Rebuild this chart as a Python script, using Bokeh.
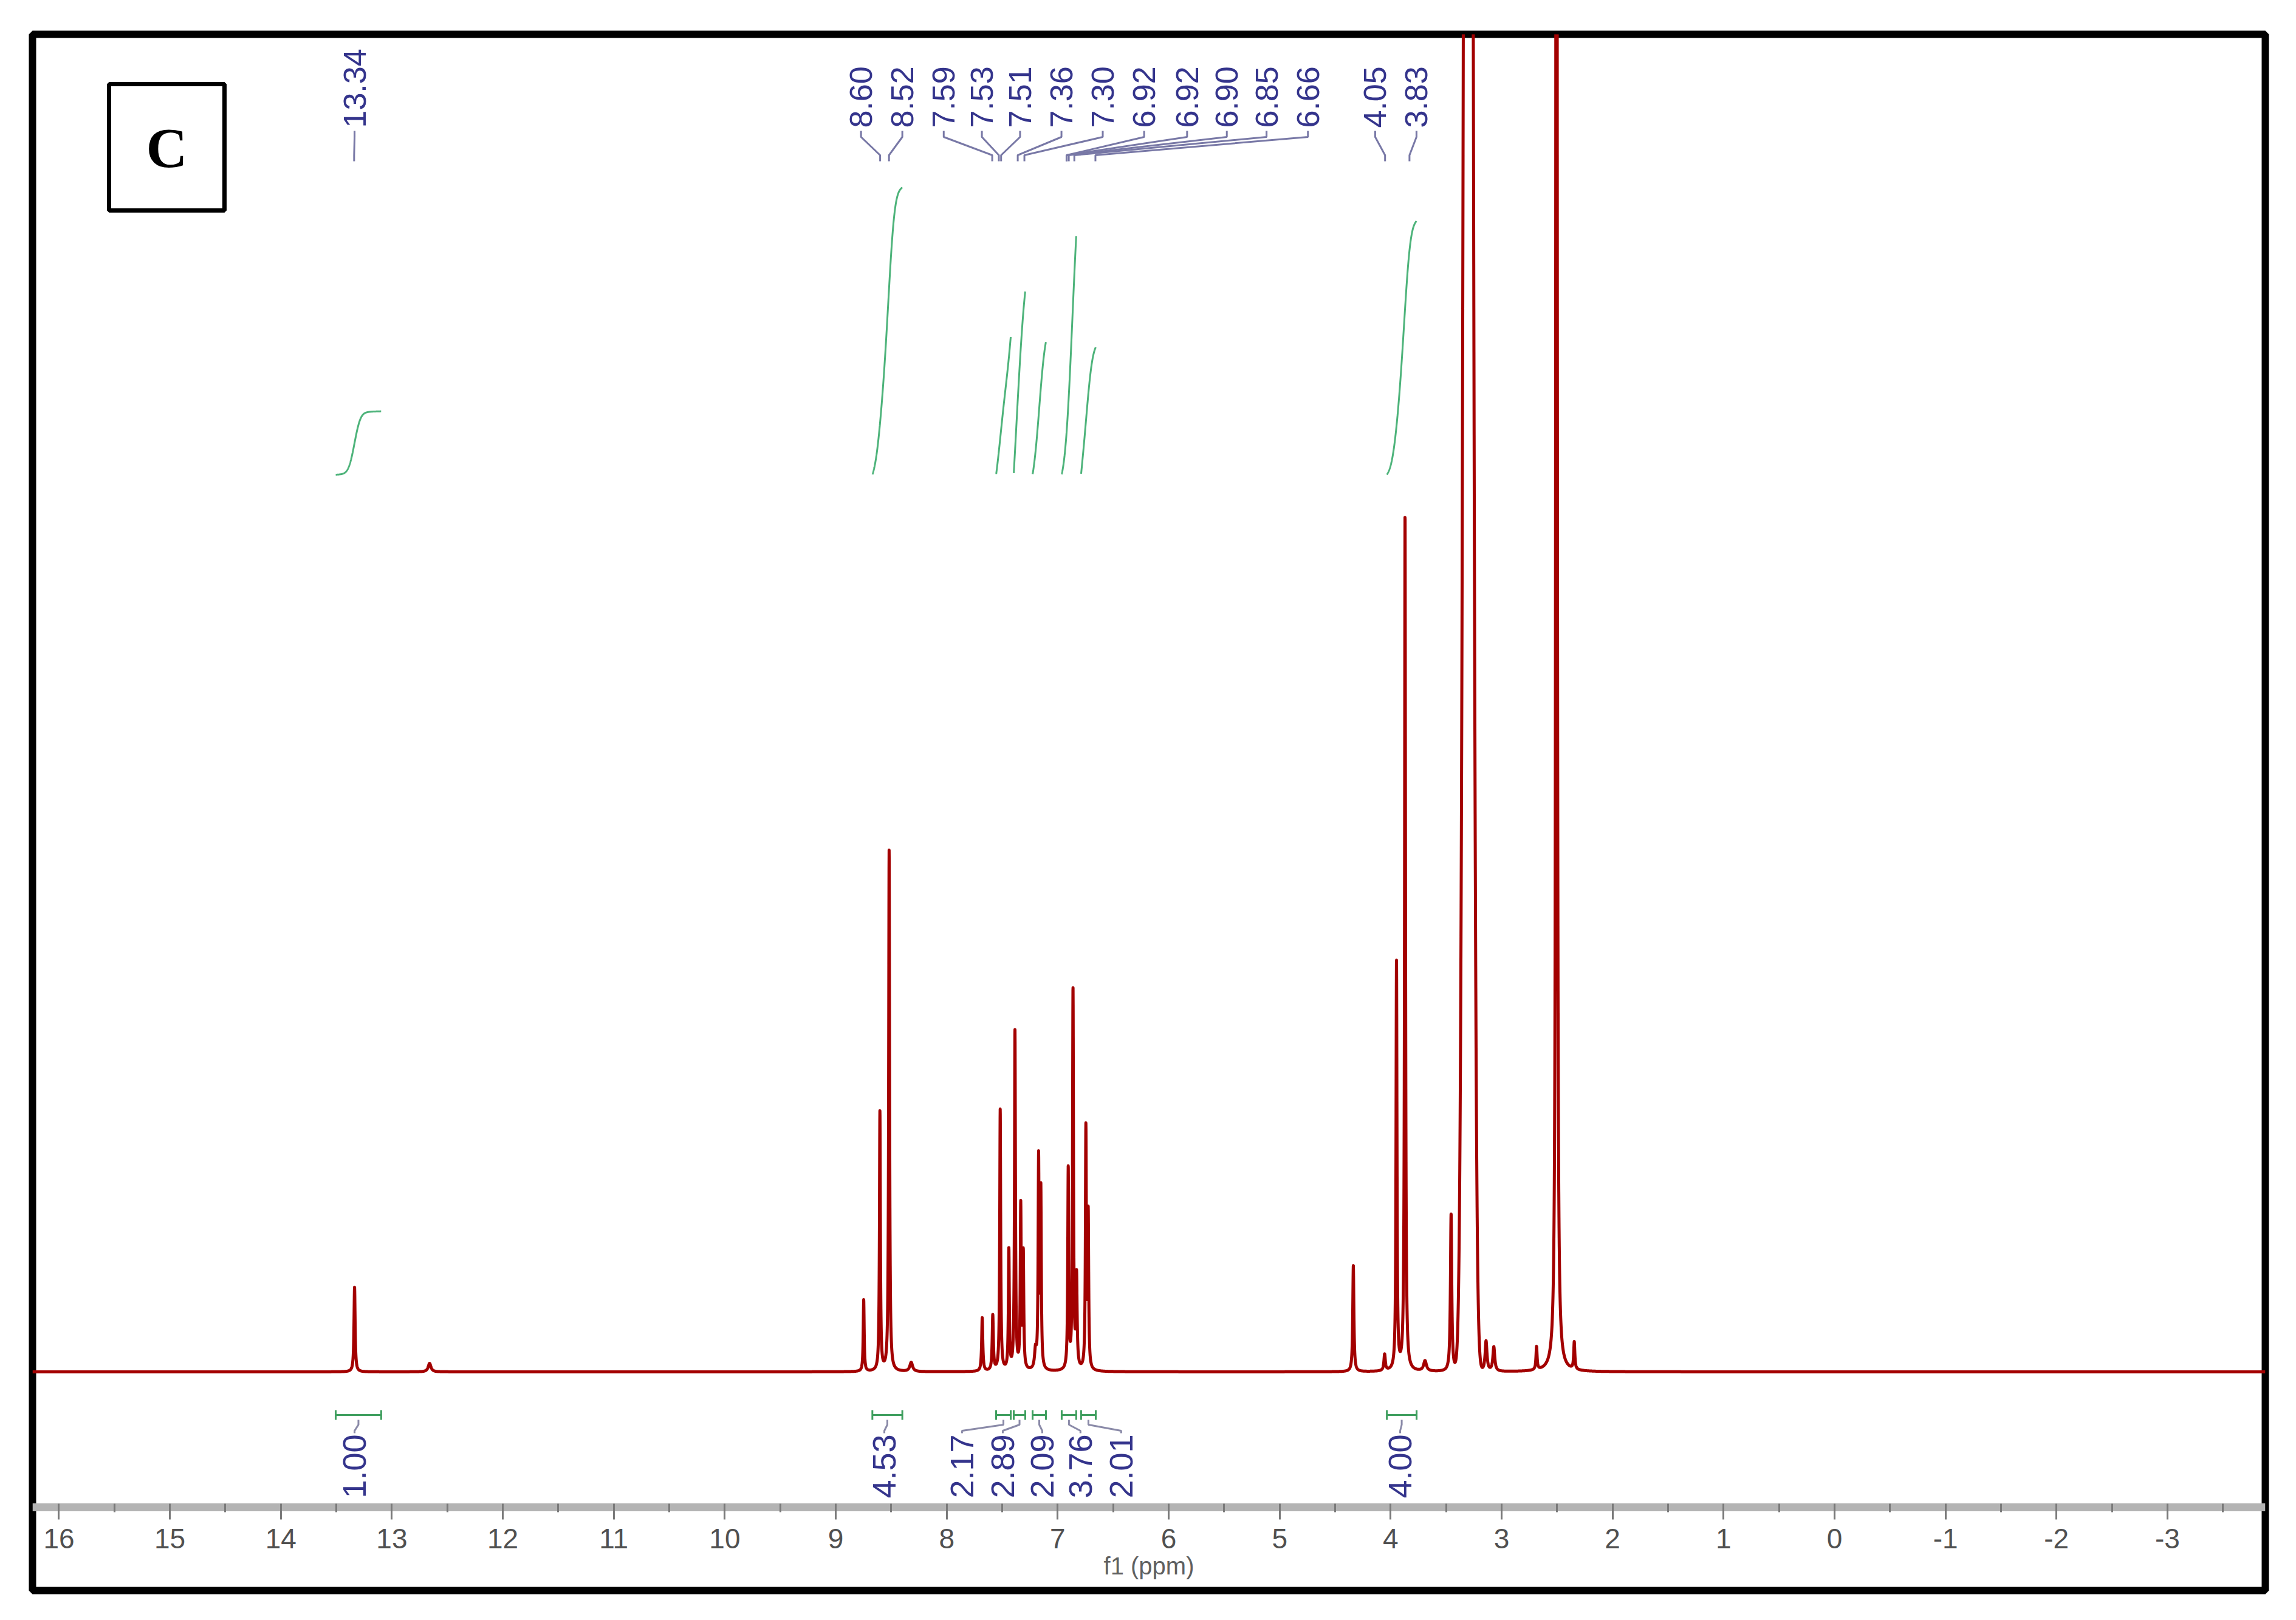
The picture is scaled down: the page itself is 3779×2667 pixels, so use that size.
import numpy as np
from bokeh.plotting import figure
from bokeh.models import Range1d, LinearAxis, FixedTicker, ColumnDataSource
from bokeh.core.properties import value
from bokeh.embed import file_html
from bokeh.resources import INLINE

# ---------------- data ----------------
# peak list: chemical shift (ppm), height (px above baseline), line width (ppm), shape
peak_ppm = [13.336, 12.66, 8.748, 8.602, 8.519, 8.32, 7.68, 7.585, 7.518, 7.44,
            7.385, 7.333, 7.31, 7.20, 7.172, 7.152, 6.905, 6.862, 6.83, 6.746,
            6.725, 4.336, 4.054, 3.947, 3.87, 3.69, 3.455, 3.30, 3.14, 3.07,
            2.685, 2.505, 2.345]
peak_height = [140, 14, 118, 427, 858, 15, 88, 91, 430, 197,
               558, 267, 188, 30, 342, 290, 330, 624, 150, 394,
               250, 175, 27, 674, 1412, 17, 260, 6000, 50, 40,
               38, 8000, 45]
peak_width = [0.012, 0.03, 0.010, 0.010, 0.010, 0.03, 0.012, 0.012, 0.010, 0.010,
              0.010, 0.010, 0.010, 0.02, 0.010, 0.010, 0.010, 0.010, 0.012, 0.010,
              0.010, 0.012, 0.015, 0.010, 0.010, 0.03, 0.014, 0.075, 0.02, 0.02,
              0.012, 0.008, 0.012]
peak_shape = ["L"] * 27 + ["G"] + ["L"] * 5

# picked-peak labels (text, ppm the leader points at, ppm where the label sits)
pick_text = ["13.34", "8.60", "8.52", "7.59", "7.53", "7.51", "7.36", "7.30",
             "6.92", "6.92", "6.90", "6.85", "6.66", "4.05", "3.83"]
pick_target = [13.34, 8.60, 8.52, 7.59, 7.53, 7.51, 7.36, 7.30,
               6.92, 6.92, 6.90, 6.85, 6.66, 4.05, 3.83]
pick_pos = [13.336, 8.772, 8.400, 8.027, 7.683, 7.339, 6.966, 6.594,
            6.221, 5.834, 5.476, 5.118, 4.745, 4.139, 3.767]

# integrals: range start/end (ppm), value, label position (ppm)
int_start = [13.506, 8.67, 7.555, 7.396, 7.226, 6.964, 6.789, 4.034]
int_end = [13.096, 8.40, 7.423, 7.292, 7.106, 6.833, 6.657, 3.766]
int_value = [1.00, 4.53, 2.17, 2.89, 2.09, 3.76, 2.01, 4.00]
int_label_pos = [13.336, 8.562, 7.862, 7.495, 7.139, 6.795, 6.428, 3.914]

tick_vals = list(range(-3, 17))
minor_vals = [v + 0.5 for v in range(-4, 17)]

# ---------------- layout constants ----------------
X_LEFT, X_RIGHT = 16.238, -3.882
Y_BOTTOM, Y_TOP = -360, 2202
AXIS_Y = -223
INT_BASE = 1477
INT_SCALE = 104.4
SANS = "Liberation Sans"

# ---------------- spectrum ----------------
N = 24000
xs = np.linspace(X_LEFT, X_RIGHT, N)
ys = np.zeros_like(xs)
for c, h, w, s in zip(peak_ppm, peak_height, peak_width, peak_shape):
    if s == "L":
        ys += h / (1.0 + ((xs - c) / (w / 2.0)) ** 2)
    else:
        sig = w / 2.3548
        ys += h * np.exp(-0.5 * ((xs - c) / sig) ** 2)

# smoothed copy used only for the integral traces
dx = (X_LEFT - X_RIGHT) / (N - 1)
ks = 0.04 / dx
kx = np.arange(-int(4 * ks), int(4 * ks) + 1)
kern = np.exp(-0.5 * (kx / ks) ** 2)
kern /= kern.sum()
ys_s = np.convolve(ys, kern, mode="same")

p = figure(width=3760, height=2650,
           x_range=Range1d(X_LEFT, X_RIGHT), y_range=Range1d(Y_BOTTOM, Y_TOP),
           x_axis_type=None, y_axis_type=None,
           toolbar_location=None, output_backend="svg",
           min_border_left=53, min_border_right=32,
           min_border_top=56, min_border_bottom=32)
p.outline_line_color = "black"
p.outline_line_width = 12
p.background_fill_color = "white"
p.border_fill_color = "white"

# axis drawn inside the frame
ax = LinearAxis(fixed_location=AXIS_Y,
                ticker=FixedTicker(ticks=tick_vals, minor_ticks=minor_vals))
ax.axis_line_color = "#b4b4b4"
ax.axis_line_width = 13
ax.major_tick_in = 6
ax.major_tick_out = 20
ax.major_tick_line_color = "#7a7a7a"
ax.major_tick_line_width = 3
ax.minor_tick_in = 6
ax.minor_tick_out = 8
ax.minor_tick_line_color = "#7a7a7a"
ax.minor_tick_line_width = 3
ax.major_label_text_font = SANS
ax.major_label_text_font_size = "46px"
ax.major_label_text_color = "#505050"
ax.major_label_standoff = 15
ax.major_label_overrides = {v: str(v) for v in tick_vals}
ax.axis_label = "f1 (ppm)"
ax.axis_label_text_font = SANS
ax.axis_label_text_font_style = "normal"
ax.axis_label_text_font_size = "40px"
ax.axis_label_text_color = "#606060"
ax.axis_label_standoff = 4
p.add_layout(ax, "below")

# spectrum line
p.line(xs, ys, line_color="#a30000", line_width=5, line_join="round")

# integral curves
for a, b, v in zip(int_start, int_end, int_value):
    m = (xs <= a) & (xs >= b)
    seg = ys_s[m]
    frac = np.cumsum(seg) / np.sum(seg)
    p.line(xs[m], INT_BASE + INT_SCALE * v * frac, line_color="#4db37a", line_width=3)

# integral brackets and labels
BR_Y, CAP = -71, 8
for a, b, v, lp in zip(int_start, int_end, int_value, int_label_pos):
    p.line([a, b], [BR_Y, BR_Y], line_color="#3f9f5f", line_width=3)
    p.line([a, a], [BR_Y - CAP, BR_Y + CAP], line_color="#3f9f5f", line_width=3)
    p.line([b, b], [BR_Y - CAP, BR_Y + CAP], line_color="#3f9f5f", line_width=3)
    mid = (a + b) / 2.0
    p.line([mid, mid, lp, lp], [BR_Y - CAP, BR_Y - 16, BR_Y - 26, BR_Y - 30],
           line_color="#8a8aa8", line_width=3)
src_int = ColumnDataSource(dict(x=int_label_pos, y=[-208] * len(int_value),
                                t=["%.2f" % v for v in int_value]))
p.text(x="x", y="y", text="t", source=src_int, angle=np.pi / 2,
       text_font=value(SANS), text_font_size="54px",
       text_color="#34348c", text_align="left", text_baseline="middle")

# peak pick labels and leaders
LAB_Y = 2048
for t, tg, ps in zip(pick_text, pick_target, pick_pos):
    p.line([ps, ps, tg, tg], [LAB_Y - 5, LAB_Y - 15, LAB_Y - 45, LAB_Y - 55],
           line_color="#7878a6", line_width=3)
src_pk = ColumnDataSource(dict(x=pick_pos, y=[LAB_Y] * len(pick_pos), t=pick_text))
p.text(x="x", y="y", text="t", source=src_pk, angle=np.pi / 2,
       text_font=value(SANS), text_font_size="52px",
       text_color="#34348c", text_align="left", text_baseline="middle")

# panel letter box
p.quad(left=[15.548], right=[14.508], top=[2120], bottom=[1912],
       fill_color=None, line_color="black", line_width=7)
p.text(x=[15.028], y=[2016], text=["C"], text_font=value("Liberation Serif"),
       text_font_style="bold", text_font_size="94px", text_color="black",
       text_align="center", text_baseline="middle")

open("out.html", "w").write(file_html(p, INLINE))
